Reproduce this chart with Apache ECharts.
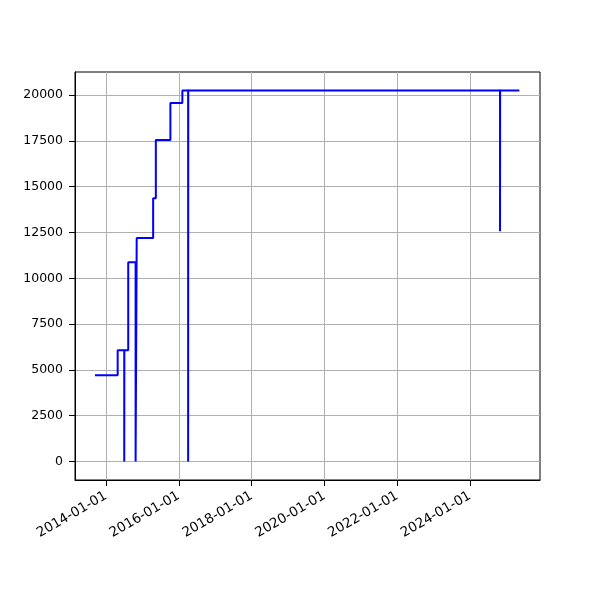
<!DOCTYPE html>
<html>
<head>
<meta charset="utf-8">
<script src="https://cdn.jsdelivr.net/npm/echarts@6/dist/echarts.min.js"></script>
<style>html,body{margin:0;padding:0;background:#fff}#c{width:600px;height:600px}</style>
</head>
<body>
<div id="c"></div>
<script>
// Data
var dates = ['2013-09-12','2014-04-28','2014-07-03','2014-07-04','2014-08-12','2014-10-25','2014-11-05','2015-04-19','2015-05-16','2015-10-09','2016-02-06','2016-04-04','2016-04-05','2024-10-28','2024-10-29','2025-05-10'];
var values = [4700,6070,0,6070,10870,0,12200,14370,17550,19570,20250,0,20250,12570,20250,20250];
var xTickLabels = ['2014-01-01','2016-01-01','2018-01-01','2020-01-01','2022-01-01','2024-01-01'];
var yTickValues = [0,2500,5000,7500,10000,12500,15000,17500,20000];
var xRange = ['2013-02-24','2025-12-03'];
var yRange = [-1012,21262];

var xTicks = xTickLabels.map(function(s){return Date.parse(s);});
var seriesData = dates.map(function(d,i){return [Date.parse(d), values[i]];});
function fmt(v){
  var d = new Date(v);
  var m = d.getUTCMonth()+1, day = d.getUTCDate();
  return d.getUTCFullYear()+'-'+(m<10?'0':'')+m+'-'+(day<10?'0':'')+day;
}
var font = 'DejaVu Sans';
var chart = echarts.init(document.getElementById('c'));
chart.setOption({
  animation:false,
  grid:{left:75,right:60,top:72,bottom:120,show:true,borderColor:'#000',borderWidth:1,backgroundColor:'transparent'},
  xAxis:{
    type:'value',
    min:Date.parse(xRange[0]), max:Date.parse(xRange[1]),
    axisLine:{show:true,onZero:false,lineStyle:{color:'#000',width:1}},
    axisTick:{show:true,length:6,lineStyle:{color:'#000'},customValues:xTicks},
    axisLabel:{rotate:30,margin:15,color:'#000',fontFamily:font,fontSize:13.5,customValues:xTicks,formatter:function(v){return fmt(v);}},
    splitLine:{show:true,lineStyle:{color:'#b0b0b0',width:1}}
  },
  yAxis:{
    type:'value',
    min:yRange[0], max:yRange[1],
    axisLine:{show:true,onZero:false,lineStyle:{color:'#000',width:1}},
    axisTick:{show:true,length:6,lineStyle:{color:'#000'},customValues:yTickValues},
    axisLabel:{margin:12,color:'#000',fontFamily:font,fontSize:12.5,customValues:yTickValues,formatter:function(v){return String(v);}},
    splitLine:{show:true,lineStyle:{color:'#b0b0b0',width:1}}
  },
  series:[{
    type:'line',
    step:'end',
    data:seriesData,
    showSymbol:false,
    lineStyle:{color:'#0000ff',width:2},
    itemStyle:{color:'#0000ff'}
  }]
});
</script>
</body>
</html>
